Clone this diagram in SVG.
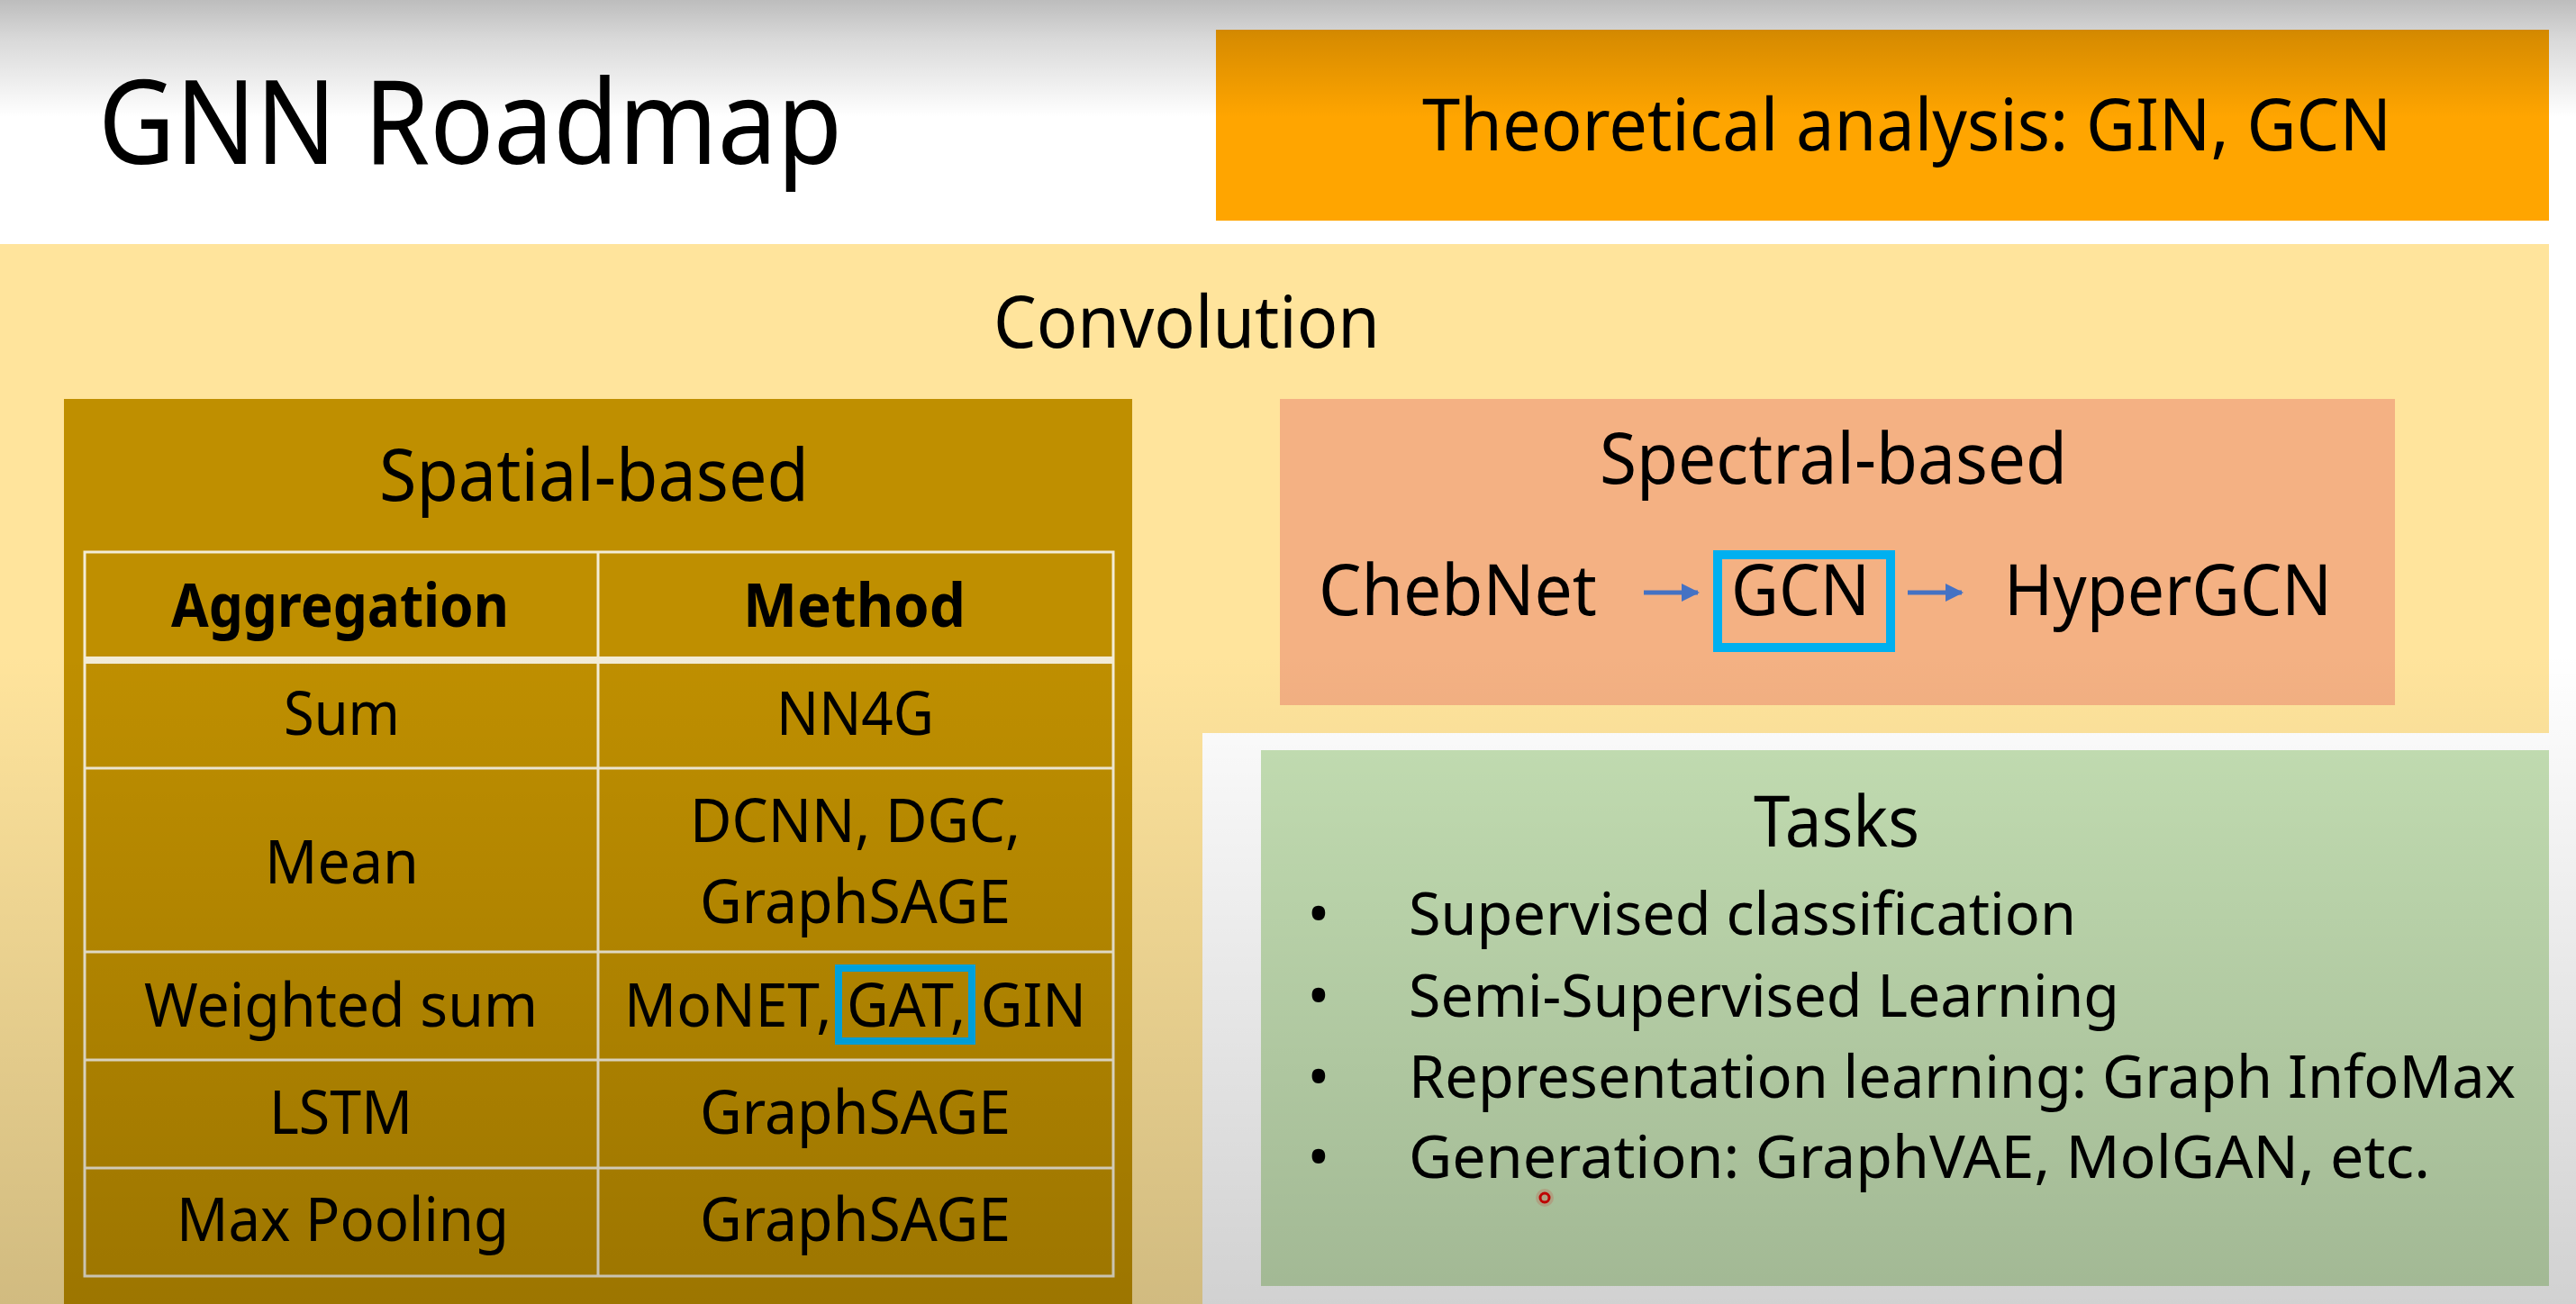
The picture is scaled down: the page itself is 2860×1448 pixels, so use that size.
<svg xmlns="http://www.w3.org/2000/svg" width="2860" height="1448" viewBox="0 0 2860 1448">
<defs>
<style>
text{font-family:"Noto Sans","Open Sans","Liberation Sans",sans-serif;fill:#000;}
.t129{font-size:129px;}
.t80{font-size:80px;}
.t78{font-size:78px;}
.t67{font-size:67px;}
.b67{font-size:67px;font-weight:bold;}
.t66{font-size:66px;}
.grid{stroke:#f3ecd6;stroke-width:3;fill:none;}
.hl{fill:none;stroke:#00b0f0;}
.arr{stroke:#4472c4;stroke-width:5;fill:none;}
</style>
<marker id="ah" viewBox="0 0 10 10" refX="9" refY="5" markerWidth="4" markerHeight="4" orient="auto" markerUnits="strokeWidth">
<path d="M0,0 L10,5 L0,10 z" fill="#4472c4"/>
</marker>
<linearGradient id="shade" x1="0" y1="0" x2="0" y2="1">
<stop offset="0" stop-color="#000" stop-opacity="0.26"/>
<stop offset="0.03" stop-color="#000" stop-opacity="0.15"/>
<stop offset="0.09" stop-color="#000" stop-opacity="0"/>
<stop offset="0.5" stop-color="#000" stop-opacity="0"/>
<stop offset="1" stop-color="#000" stop-opacity="0.18"/>
</linearGradient>
</defs>

<rect x="0" y="0" width="2860" height="1448" fill="#ffffff"/>

<g id="title">
<text class="t129" x="109" y="182" textLength="826" lengthAdjust="spacingAndGlyphs">GNN Roadmap</text>
</g>

<g id="theory">
<rect x="1350" y="33" width="1480" height="212" fill="#ffa500"/>
<text class="t80" x="1579" y="167" textLength="1076" lengthAdjust="spacingAndGlyphs">Theoretical analysis: GIN, GCN</text>
</g>

<g id="convolution">
<rect x="0" y="271" width="2830" height="1177" fill="#ffe49c"/>
<rect x="1335" y="814" width="1525" height="634" fill="#ffffff"/>
<text class="t80" x="1103" y="386" textLength="429" lengthAdjust="spacingAndGlyphs">Convolution</text>
</g>

<g id="spatial">
<rect x="71" y="443" width="1186" height="1005" fill="#bf8f00"/>
<text class="t80" x="421" y="556" textLength="477" lengthAdjust="spacingAndGlyphs">Spatial-based</text>
<rect class="grid" x="94" y="613" width="1142" height="804"/>
<line class="grid" x1="664" y1="613" x2="664" y2="1417"/>
<line class="grid" x1="94" y1="733" x2="1236" y2="733" style="stroke-width:8"/>
<line class="grid" x1="94" y1="853" x2="1236" y2="853"/>
<line class="grid" x1="94" y1="1057" x2="1236" y2="1057"/>
<line class="grid" x1="94" y1="1177" x2="1236" y2="1177"/>
<line class="grid" x1="94" y1="1297" x2="1236" y2="1297"/>
<text class="b67" x="190" y="696" textLength="375" lengthAdjust="spacingAndGlyphs">Aggregation</text>
<text class="b67" x="825" y="696" textLength="247" lengthAdjust="spacingAndGlyphs">Method</text>
<text class="t67" x="315" y="816" textLength="129" lengthAdjust="spacingAndGlyphs">Sum</text>
<text class="t67" x="862" y="816" textLength="175" lengthAdjust="spacingAndGlyphs">NN4G</text>
<text class="t67" x="294" y="981" textLength="171" lengthAdjust="spacingAndGlyphs">Mean</text>
<text class="t67" x="766" y="935" textLength="367" lengthAdjust="spacingAndGlyphs">DCNN, DGC,</text>
<text class="t67" x="777" y="1025" textLength="345" lengthAdjust="spacingAndGlyphs">GraphSAGE</text>
<text class="t67" x="160" y="1140" textLength="437" lengthAdjust="spacingAndGlyphs">Weighted sum</text>
<text class="t67" x="693" y="1140" textLength="513" lengthAdjust="spacingAndGlyphs">MoNET, GAT, GIN</text>
<rect class="hl" x="931" y="1075" width="148" height="81" stroke-width="8"/>
<text class="t67" x="299" y="1259" textLength="159" lengthAdjust="spacingAndGlyphs">LSTM</text>
<text class="t67" x="777" y="1259" textLength="345" lengthAdjust="spacingAndGlyphs">GraphSAGE</text>
<text class="t67" x="196" y="1378" textLength="369" lengthAdjust="spacingAndGlyphs">Max Pooling</text>
<text class="t67" x="777" y="1378" textLength="345" lengthAdjust="spacingAndGlyphs">GraphSAGE</text>
</g>

<g id="spectral">
<rect x="1421" y="443" width="1238" height="340" fill="#f4b183"/>
<text class="t78" x="1776" y="537" textLength="519" lengthAdjust="spacingAndGlyphs">Spectral-based</text>
</g>
<g id="chebnet">
<text class="t78" x="1464" y="683" textLength="309" lengthAdjust="spacingAndGlyphs">ChebNet</text>
</g>
<g id="gcn">
<rect class="hl" x="1907" y="616" width="192" height="103" stroke-width="10"/>
<text class="t78" x="1922" y="683" textLength="154" lengthAdjust="spacingAndGlyphs">GCN</text>
</g>
<g id="hypergcn">
<text class="t78" x="2225" y="683" textLength="364" lengthAdjust="spacingAndGlyphs">HyperGCN</text>
</g>

<g id="connectors">
<line class="arr" x1="1825" y1="658" x2="1885" y2="658" marker-end="url(#ah)"/>
<line class="arr" x1="2118" y1="658" x2="2178" y2="658" marker-end="url(#ah)"/>
</g>

<g id="tasks">
<rect x="1400" y="833" width="1430" height="595" fill="#c5e0b4"/>
<text class="t78" x="1947" y="940" textLength="184" lengthAdjust="spacingAndGlyphs">Tasks</text>
<text class="t66" x="1464" y="1038" text-anchor="middle">•</text>
<text class="t66" x="1464" y="1129" text-anchor="middle">•</text>
<text class="t66" x="1464" y="1219" text-anchor="middle">•</text>
<text class="t66" x="1464" y="1308" text-anchor="middle">•</text>
<text class="t66" x="1564" y="1038" textLength="741" lengthAdjust="spacingAndGlyphs">Supervised classification</text>
<text class="t66" x="1564" y="1129" textLength="789" lengthAdjust="spacingAndGlyphs">Semi-Supervised Learning</text>
<text class="t66" x="1564" y="1219" textLength="1229" lengthAdjust="spacingAndGlyphs">Representation learning: Graph InfoMax</text>
<text class="t66" x="1564" y="1308" textLength="1134" lengthAdjust="spacingAndGlyphs">Generation: GraphVAE, MolGAN, etc.</text>
</g>

<g id="cursor">
<circle cx="1715" cy="1330" r="10" fill="#ff0000" fill-opacity="0.15"/>
<circle cx="1715" cy="1330" r="5" fill="none" stroke="#e00000" stroke-width="3"/>
</g>

<rect x="0" y="0" width="2860" height="1448" fill="url(#shade)" pointer-events="none"/>
</svg>
